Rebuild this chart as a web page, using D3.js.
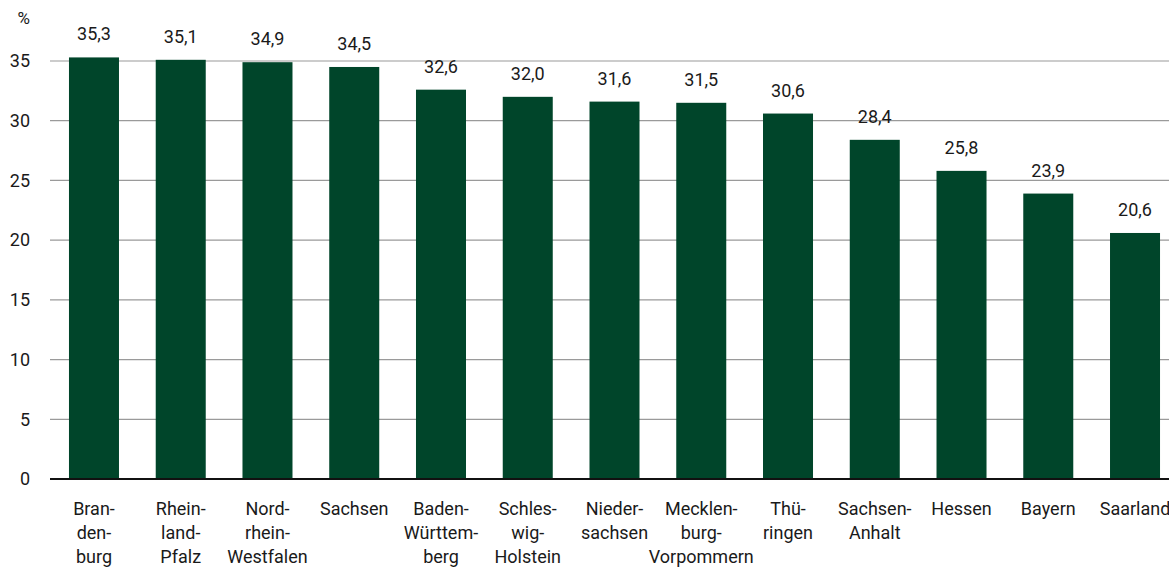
<!DOCTYPE html>
<html><head><meta charset="utf-8">
<script src="https://cdn.jsdelivr.net/npm/d3@7"></script>
<style>
html,body{margin:0;padding:0;background:#fff;}
svg text{font-family:"Roboto","Noto Sans",sans-serif;fill:#1a1a1a;}
</style></head>
<body><svg id="c" width="1169" height="569"></svg>
<script>
const categories = ["Brandenburg","Rheinland-Pfalz","Nordrhein-Westfalen","Sachsen","Baden-Württemberg","Schleswig-Holstein","Niedersachsen","Mecklenburg-Vorpommern","Thüringen","Sachsen-Anhalt","Hessen","Bayern","Saarland"];
const categoryLines = [["Bran-","den-","burg"],["Rhein-","land-","Pfalz"],["Nord-","rhein-","Westfalen"],["Sachsen"],["Baden-","Württem-","berg"],["Schles-","wig-","Holstein"],["Nieder-","sachsen"],["Mecklen-","burg-","Vorpommern"],["Thü-","ringen"],["Sachsen-","Anhalt"],["Hessen"],["Bayern"],["Saarland"]];
const values = [35.3,35.1,34.9,34.5,32.6,32.0,31.6,31.5,30.6,28.4,25.8,23.9,20.6];
const yTicks = [0,5,10,15,20,25,30,35];
const unitLabel = "%";

const svg = d3.select("#c");
const x = d3.scaleBand().domain(categories).range([50.6,1178.4]).paddingInner(0.4236).paddingOuter(0.2118);
const y = d3.scaleLinear().domain([0,35]).range([479,61]);
const fmt = v => d3.format(".1f")(v).replace(".",",");

svg.append("g").selectAll("line").data(yTicks.filter(d=>d>0)).join("line")
  .attr("x1",50).attr("x2",1169).attr("y1",d=>y(d)).attr("y2",d=>y(d))
  .attr("stroke","#9a9a9a").attr("stroke-width",1.2);

svg.append("g").selectAll("text").data(yTicks).join("text")
  .attr("x",30).attr("y",d=>y(d)).attr("dy","0.35em").attr("text-anchor","end")
  .attr("font-size",18).text(d=>d);
svg.append("text").attr("x",30).attr("y",24).attr("text-anchor","end").attr("font-size",17).text(unitLabel);

svg.append("g").selectAll("rect").data(values).join("rect")
  .attr("x",(d,i)=>x(categories[i])).attr("width",x.bandwidth())
  .attr("y",d=>y(d)).attr("height",d=>y(0)-y(d)).attr("fill","#00452a");

svg.append("g").selectAll("text").data(values).join("text")
  .attr("x",(d,i)=>x(categories[i])+x.bandwidth()/2).attr("y",d=>y(d)-17)
  .attr("text-anchor","middle").attr("font-size",18).text(fmt);

svg.append("line").attr("x1",50).attr("x2",1169).attr("y1",y(0)).attr("y2",y(0)).attr("stroke","#111").attr("stroke-width",2);

const cg = svg.append("g").selectAll("text").data(categories).join("text")
  .attr("text-anchor","middle").attr("font-size",18)
  .attr("transform",d=>`translate(${x(d)+x.bandwidth()/2},515)`);
cg.each(function(d,i){
  d3.select(this).selectAll("tspan").data(categoryLines[i]).join("tspan")
    .attr("x",0).attr("y",(t,j)=>j*24).text(t=>t);
});
</script></body></html>
